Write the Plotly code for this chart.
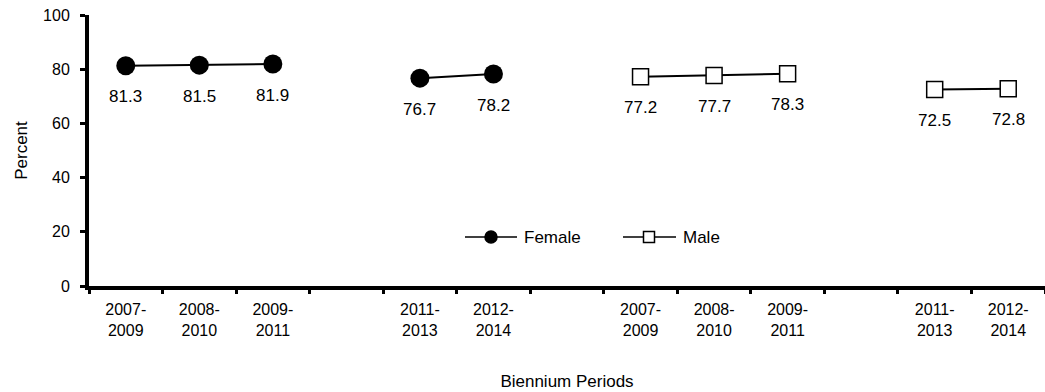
import plotly.graph_objects as go

# Category slots along the x axis (blank slots separate the groups)
period_labels = ["2007-<br>2009", "2008-<br>2010", "2009-<br>2011", "",
                 "2011-<br>2013", "2012-<br>2014", "",
                 "2007-<br>2009", "2008-<br>2010", "2009-<br>2011", "",
                 "2011-<br>2013", "2012-<br>2014"]

female_x = [0, 1, 2, 3, 4, 5]
female_y = [81.3, 81.5, 81.9, None, 76.7, 78.2]

male_x = [7, 8, 9, 10, 11, 12]
male_y = [77.2, 77.7, 78.3, None, 72.5, 72.8]

FONT = "Liberation Sans, Arial, sans-serif"

fig = go.Figure()
fig.add_trace(go.Scatter(
    x=female_x, y=female_y, name="Female", mode="lines+markers",
    connectgaps=False, showlegend=False,
    line=dict(color="black", width=2),
    marker=dict(symbol="circle", size=19, color="black"),
))
fig.add_trace(go.Scatter(
    x=male_x, y=male_y, name="Male", mode="lines+markers",
    connectgaps=False, showlegend=False,
    line=dict(color="black", width=2),
    marker=dict(symbol="square", size=16, color="white",
                line=dict(color="black", width=1.5)),
))

# Value labels beneath each point
for xs, ys in ((female_x, female_y), (male_x, male_y)):
    for xv, yv in zip(xs, ys):
        if yv is None:
            continue
        fig.add_annotation(x=xv, y=yv, text=f"{yv:.1f}", showarrow=False,
                           yshift=-31, font=dict(family=FONT, size=17, color="black"))

# Legend drawn in paper coordinates: line segment, marker, label
PLOT_L, PLOT_W = 89, 956
PLOT_B, PLOT_H = 286, 271


def px_x(p):
    return (p - PLOT_L) / PLOT_W


def px_y(p):
    return (PLOT_B - p) / PLOT_H


leg_y = px_y(237)
legend_items = [
    ("Female", 465, 517, 491, "circle", "black", 12),
    ("Male", 623, 676, 649, "rect", "white", 11),
]
for name, x0, x1, xm, kind, fill, sz in legend_items:
    fig.add_shape(type="line", xref="paper", yref="paper",
                  x0=px_x(x0), x1=px_x(x1), y0=leg_y, y1=leg_y,
                  line=dict(color="black", width=1.5))
    fig.add_shape(type=kind, xref="paper", yref="paper",
                  xsizemode="pixel", ysizemode="pixel",
                  xanchor=px_x(xm), yanchor=leg_y,
                  x0=-sz / 2, x1=sz / 2, y0=-sz / 2, y1=sz / 2,
                  fillcolor=fill, line=dict(color="black", width=1.5))
    fig.add_annotation(xref="paper", yref="paper", x=px_x(x1 + 5), y=leg_y,
                       xanchor="left", yanchor="middle", showarrow=False,
                       text=name, font=dict(family=FONT, size=17, color="black"))

label_pos = [i for i, t in enumerate(period_labels) if t]
fig.update_xaxes(
    range=[-0.5, len(period_labels) - 0.5],
    tickvals=label_pos,
    ticktext=[period_labels[i] for i in label_pos],
    ticks="",
    minor=dict(tick0=-0.5, dtick=1, ticks="outside", ticklen=4,
               tickwidth=3, tickcolor="black"),
    showline=True, linewidth=4, linecolor="black",
    showgrid=False, zeroline=False,
    ticklabelstandoff=6,
    tickfont=dict(family=FONT, size=16, color="black"),
    title=dict(text="Biennium Periods", standoff=38,
               font=dict(family=FONT, size=17, color="black")),
)
fig.update_yaxes(
    range=[0, 100], tickvals=[0, 20, 40, 60, 80, 100],
    ticks="outside", ticklen=5, tickwidth=3, tickcolor="black",
    showline=True, linewidth=4, linecolor="black",
    showgrid=False, zeroline=False,
    ticklabelstandoff=7,
    tickfont=dict(family=FONT, size=16, color="black"),
    title=dict(text="Percent", standoff=12,
               font=dict(family=FONT, size=17, color="black")),
)
fig.update_layout(
    width=1045, height=392,
    margin=dict(l=89, r=0, t=15, b=106),
    paper_bgcolor="white", plot_bgcolor="white",
    showlegend=False,
    font=dict(family=FONT, color="black"),
)

fig.write_html("out.html")
